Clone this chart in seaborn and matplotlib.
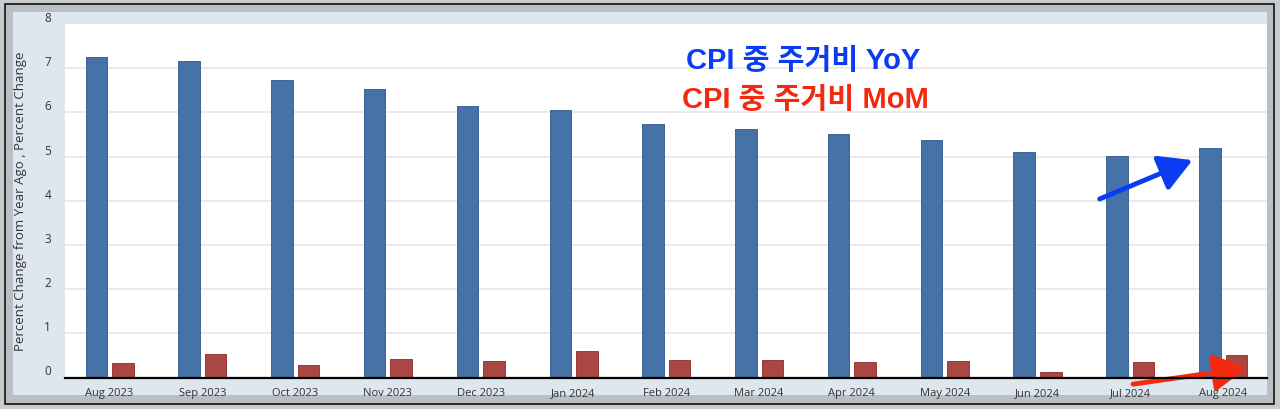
import numpy as np
import pandas as pd
import matplotlib.pyplot as plt
import seaborn as sns
from matplotlib.patches import Rectangle

months = ['Aug 2023', 'Sep 2023', 'Oct 2023', 'Nov 2023', 'Dec 2023', 'Jan 2024',
          'Feb 2024', 'Mar 2024', 'Apr 2024', 'May 2024', 'Jun 2024', 'Jul 2024', 'Aug 2024']
yoy = [7.26, 7.16, 6.73, 6.52, 6.15, 6.05, 5.74, 5.63, 5.51, 5.38, 5.11, 5.02, 5.19]
mom = [0.32, 0.54, 0.28, 0.41, 0.37, 0.60, 0.39, 0.39, 0.35, 0.37, 0.13, 0.35, 0.50]
yticks = [0, 1, 2, 3, 4, 5, 6, 7, 8]

df = pd.DataFrame({
    'month': months * 2,
    'series': ['YoY'] * len(yoy) + ['MoM'] * len(mom),
    'value': yoy + mom,
})

sns.set_style('white')
plt.rcParams['font.family'] = ['Open Sans', 'Noto Sans CJK KR', 'DejaVu Sans']

W, H = 1280, 410
fig = plt.figure(figsize=(W / 100, H / 100), dpi=100, facecolor='#c9cbcd')


def box(x0, y0, x1, y1, **kw):
    # pixel coords measured from the top-left corner
    r = Rectangle((x0 / W, 1 - y1 / H), (x1 - x0) / W, (y1 - y0) / H,
                  transform=fig.transFigure, zorder=-10, **kw)
    fig.patches.append(r)


box(5, 5, 1274, 405, facecolor='#b9bfc5', edgecolor='#111111', lw=1.2)
box(13, 13, 1267, 396, facecolor='#dee6ee', edgecolor='none')

ax = fig.add_axes([65 / W, 1 - 378.5 / H, (1266.7 - 65) / W, (378.5 - 25) / H])
ax.set_zorder(2)
ax.set_facecolor('white')

sns.barplot(data=df, x='month', y='value', hue='series',
            palette=['#4572a7', '#aa4643'], saturation=1,
            width=0.572, gap=0.19, legend=False, ax=ax,
            edgecolor=None, linewidth=0)
for i, p in enumerate(ax.patches):
    p.set_edgecolor('#3b6496' if i < len(yoy) else '#98393a')
    p.set_linewidth(0.7)
    p.set_zorder(3)

ax.set_xlim(-0.48, 12.47)
ax.set_ylim(0, 8)
ax.set_yticks(yticks)
ax.set_xlabel('')
ax.set_ylabel('')

ax.yaxis.grid(True, color='#e6e6e6', lw=1.2, zorder=0)
ax.xaxis.grid(False)
ax.set_axisbelow(True)
ax.get_ygridlines()[-1].set_visible(False)

for s in ['top', 'right', 'left']:
    ax.spines[s].set_visible(False)
ax.spines['bottom'].set_color('black')
ax.spines['bottom'].set_linewidth(1.6)
ax.spines['bottom'].set_zorder(4)

ax.tick_params(axis='y', length=0, pad=10, labelsize=8.5, labelcolor='#333333')
ax.tick_params(axis='x', length=5, width=0.8, color='#ccd6eb', pad=2,
               labelsize=8, labelcolor='#333333')
for t in ax.get_yticklabels():
    t.set_verticalalignment('bottom')

fig.text(21 / W, 1 - 201.5 / H, 'Percent Change from Year Ago , Percent Change',
         rotation=90, ha='center', va='center', fontsize=9.5, color='#333333')

kfont = ['Liberation Sans', 'Noto Sans CJK KR', 'DejaVu Sans']
fig.text(803 / W, 1 - 61 / H, 'CPI 중 주거비 YoY', ha='center', va='center',
         fontsize=21, fontweight='bold', color='#0b3cf2', family=kfont)
fig.text(805 / W, 1 - 100 / H, 'CPI 중 주거비 MoM', ha='center', va='center',
         fontsize=21, fontweight='bold', color='#f42a10', family=kfont)

ax.annotate('', xy=(11.67, 4.92), xytext=(10.67, 4.04), annotation_clip=False,
            arrowprops=dict(arrowstyle='-|>,head_length=0.8,head_width=0.45',
                            lw=3.5, color='#0b3cf2', mutation_scale=25,
                            shrinkA=0, shrinkB=0))
ax.annotate('', xy=(12.25, 0.215), xytext=(11.03, -0.15), annotation_clip=False,
            arrowprops=dict(arrowstyle='-|>,head_length=0.8,head_width=0.45',
                            lw=3.5, color='#f42a10', mutation_scale=25,
                            shrinkA=0, shrinkB=0))

fig.savefig('out.png', dpi=100, facecolor=fig.get_facecolor())
